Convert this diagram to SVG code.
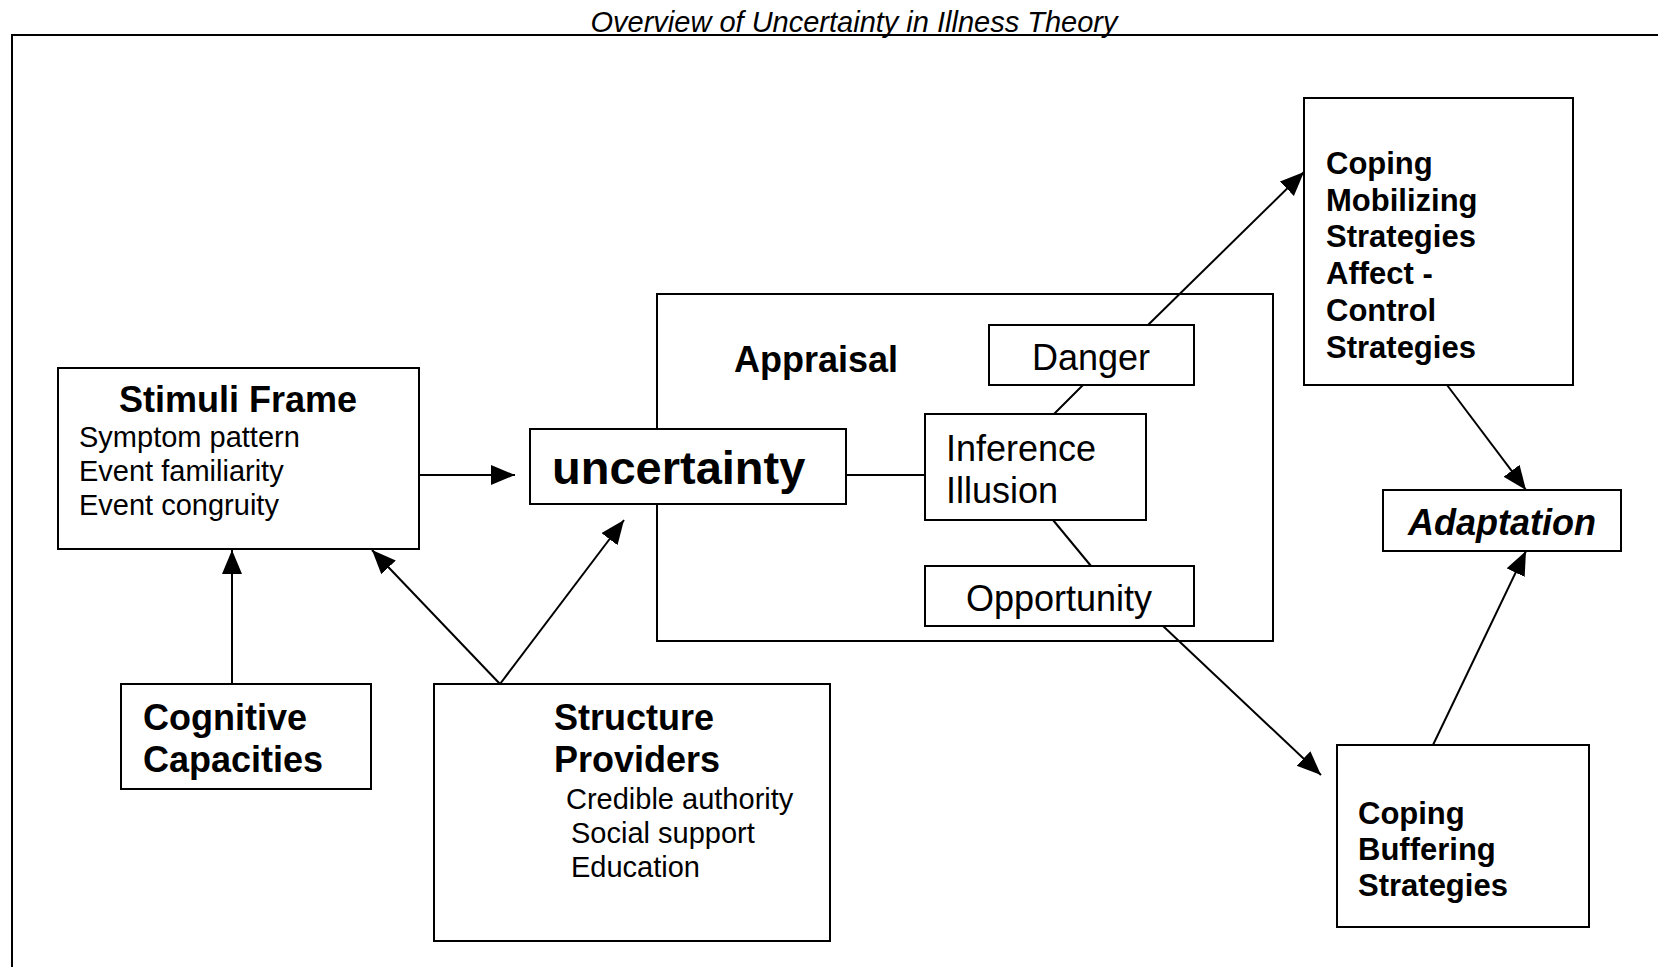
<svg xmlns="http://www.w3.org/2000/svg" width="1658" height="967" viewBox="0 0 1658 967">
<defs>
<style>
.box{fill:#fff;stroke:#000;stroke-width:2}
.frame{fill:none;stroke:#000;stroke-width:2}
.ln{fill:none;stroke:#000;stroke-width:2}
.t{font-family:"Liberation Sans",Arial,sans-serif;fill:#000}
.b{font-weight:bold}
</style>
<marker id="ah" markerUnits="userSpaceOnUse" markerWidth="26" markerHeight="22" refX="24" refY="10" orient="auto">
<path d="M0,0 L24,10 L0,20 z" fill="#000"/>
</marker>
</defs>
<rect width="1658" height="967" fill="#fff"/>
<text class="t" x="854" y="32" font-size="29" font-style="italic" text-anchor="middle">Overview of Uncertainty in Illness Theory</text>
<rect class="frame" x="12" y="35" width="1680" height="960"/>

<g id="appraisal">
<rect class="box" x="657" y="294" width="616" height="347"/>
<text class="t b" x="734" y="372" font-size="36">Appraisal</text>
</g>

<g id="connectors">
<line class="ln" x1="419" y1="475" x2="515" y2="475" marker-end="url(#ah)"/>
<line class="ln" x1="846" y1="475" x2="925" y2="475"/>
<line class="ln" x1="232" y1="684" x2="232" y2="550" marker-end="url(#ah)"/>
<line class="ln" x1="500" y1="684" x2="372" y2="550" marker-end="url(#ah)"/>
<line class="ln" x1="500" y1="684" x2="624" y2="520" marker-end="url(#ah)"/>
<line class="ln" x1="1054" y1="414" x2="1083" y2="385"/>
<line class="ln" x1="1053" y1="520" x2="1091" y2="566"/>
<line class="ln" x1="1148" y1="325" x2="1304" y2="172" marker-end="url(#ah)"/>
<line class="ln" x1="1163" y1="626" x2="1321" y2="775" marker-end="url(#ah)"/>
<line class="ln" x1="1447" y1="385" x2="1526" y2="490" marker-end="url(#ah)"/>
<line class="ln" x1="1433" y1="745" x2="1526" y2="551" marker-end="url(#ah)"/>
</g>

<g id="stimuli">
<rect class="box" x="58" y="368" width="361" height="181"/>
<text class="t b" x="238" y="412" font-size="36" text-anchor="middle">Stimuli Frame</text>
<text class="t" x="79" y="447" font-size="29">Symptom pattern</text>
<text class="t" x="79" y="481" font-size="29">Event familiarity</text>
<text class="t" x="79" y="515" font-size="29">Event congruity</text>
</g>

<g id="uncertainty">
<rect class="box" x="530" y="429" width="316" height="75"/>
<text class="t b" x="552" y="484" font-size="47">uncertainty</text>
</g>

<g id="danger">
<rect class="box" x="989" y="325" width="205" height="60"/>
<text class="t" x="1091" y="370" font-size="36" text-anchor="middle">Danger</text>
</g>

<g id="inference">
<rect class="box" x="925" y="414" width="221" height="106"/>
<text class="t" x="946" y="461" font-size="36">Inference</text>
<text class="t" x="946" y="503" font-size="36">Illusion</text>
</g>

<g id="opportunity">
<rect class="box" x="925" y="566" width="269" height="60"/>
<text class="t" x="1059" y="611" font-size="36" text-anchor="middle">Opportunity</text>
</g>

<g id="mobilizing">
<rect class="box" x="1304" y="98" width="269" height="287"/>
<text class="t b" x="1326" y="174" font-size="31">Coping</text>
<text class="t b" x="1326" y="211" font-size="31">Mobilizing</text>
<text class="t b" x="1326" y="247" font-size="31">Strategies</text>
<text class="t b" x="1326" y="284" font-size="31">Affect -</text>
<text class="t b" x="1326" y="321" font-size="31">Control</text>
<text class="t b" x="1326" y="358" font-size="31">Strategies</text>
</g>

<g id="adaptation">
<rect class="box" x="1383" y="490" width="238" height="61"/>
<text class="t b" x="1502" y="535" font-size="36" font-style="italic" text-anchor="middle">Adaptation</text>
</g>

<g id="buffering">
<rect class="box" x="1337" y="745" width="252" height="182"/>
<text class="t b" x="1358" y="824" font-size="31">Coping</text>
<text class="t b" x="1358" y="860" font-size="31">Buffering</text>
<text class="t b" x="1358" y="896" font-size="31">Strategies</text>
</g>

<g id="cognitive">
<rect class="box" x="121" y="684" width="250" height="105"/>
<text class="t b" x="143" y="730" font-size="36">Cognitive</text>
<text class="t b" x="143" y="772" font-size="36">Capacities</text>
</g>

<g id="structure">
<rect class="box" x="434" y="684" width="396" height="257"/>
<text class="t b" x="554" y="730" font-size="36">Structure</text>
<text class="t b" x="554" y="772" font-size="36">Providers</text>
<text class="t" x="566" y="809" font-size="29">Credible authority</text>
<text class="t" x="571" y="843" font-size="29">Social support</text>
<text class="t" x="571" y="877" font-size="29">Education</text>
</g>
</svg>
